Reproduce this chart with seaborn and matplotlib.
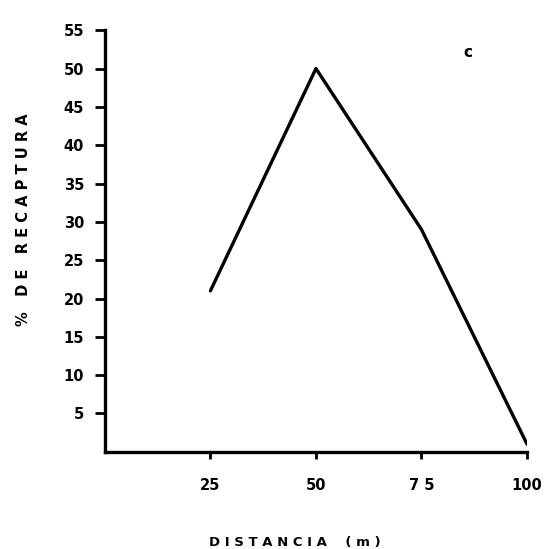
import seaborn as sns
import matplotlib.pyplot as plt
import pandas as pd

# Data
distancia = [25, 50, 75, 100]
recaptura = [21, 50, 29, 1]
x_ticks = [25, 50, 75, 100]
x_labels = ['25', '50', '7 5', '100']
y_ticks = [5, 10, 15, 20, 25, 30, 35, 40, 45, 50, 55]

sns.set_style("ticks")
plt.rcParams['font.family'] = ['DejaVu Sans']
plt.rcParams['text.color'] = 'black'
plt.rcParams['axes.labelcolor'] = 'black'

df = pd.DataFrame({'Distancia': distancia, 'Recaptura': recaptura})

fig = plt.figure(figsize=(5.49, 5.49), dpi=100)
ax = fig.add_axes([0.191, 0.177, 0.769, 0.768])

sns.lineplot(data=df, x='Distancia', y='Recaptura', color='black', linewidth=2.4, ax=ax)

ax.set_xlim(0, 100)
ax.set_ylim(0, 55)
ax.set_xticks(x_ticks)
ax.set_xticklabels(x_labels)
ax.set_yticks(y_ticks)
for lbl in ax.get_xticklabels() + ax.get_yticklabels():
    lbl.set_fontweight('heavy')
    lbl.set_fontsize(10.5)

ax.tick_params(axis='y', direction='out', length=7, width=2, pad=8, colors='black')
ax.tick_params(axis='x', direction='out', length=5, width=2, pad=14, colors='black')

sns.despine(ax=ax)
for s in ['left', 'bottom']:
    ax.spines[s].set_linewidth(2.4)
    ax.spines[s].set_color('black')

ax.set_xlabel('D I S T A N C I A    ( m )', fontsize=9.5, fontweight='bold')
ax.xaxis.set_label_coords(0.45, -0.2)
ax.set_ylabel('%   D E   R E C A P T U R A', fontsize=10.5, fontweight='bold')
ax.yaxis.set_label_coords(-0.175, 0.55)

ax.text(0.86, 0.948, 'c', transform=ax.transAxes, fontsize=11, fontweight='bold',
        ha='center', va='center')

fig.savefig('out.png', dpi=100)
